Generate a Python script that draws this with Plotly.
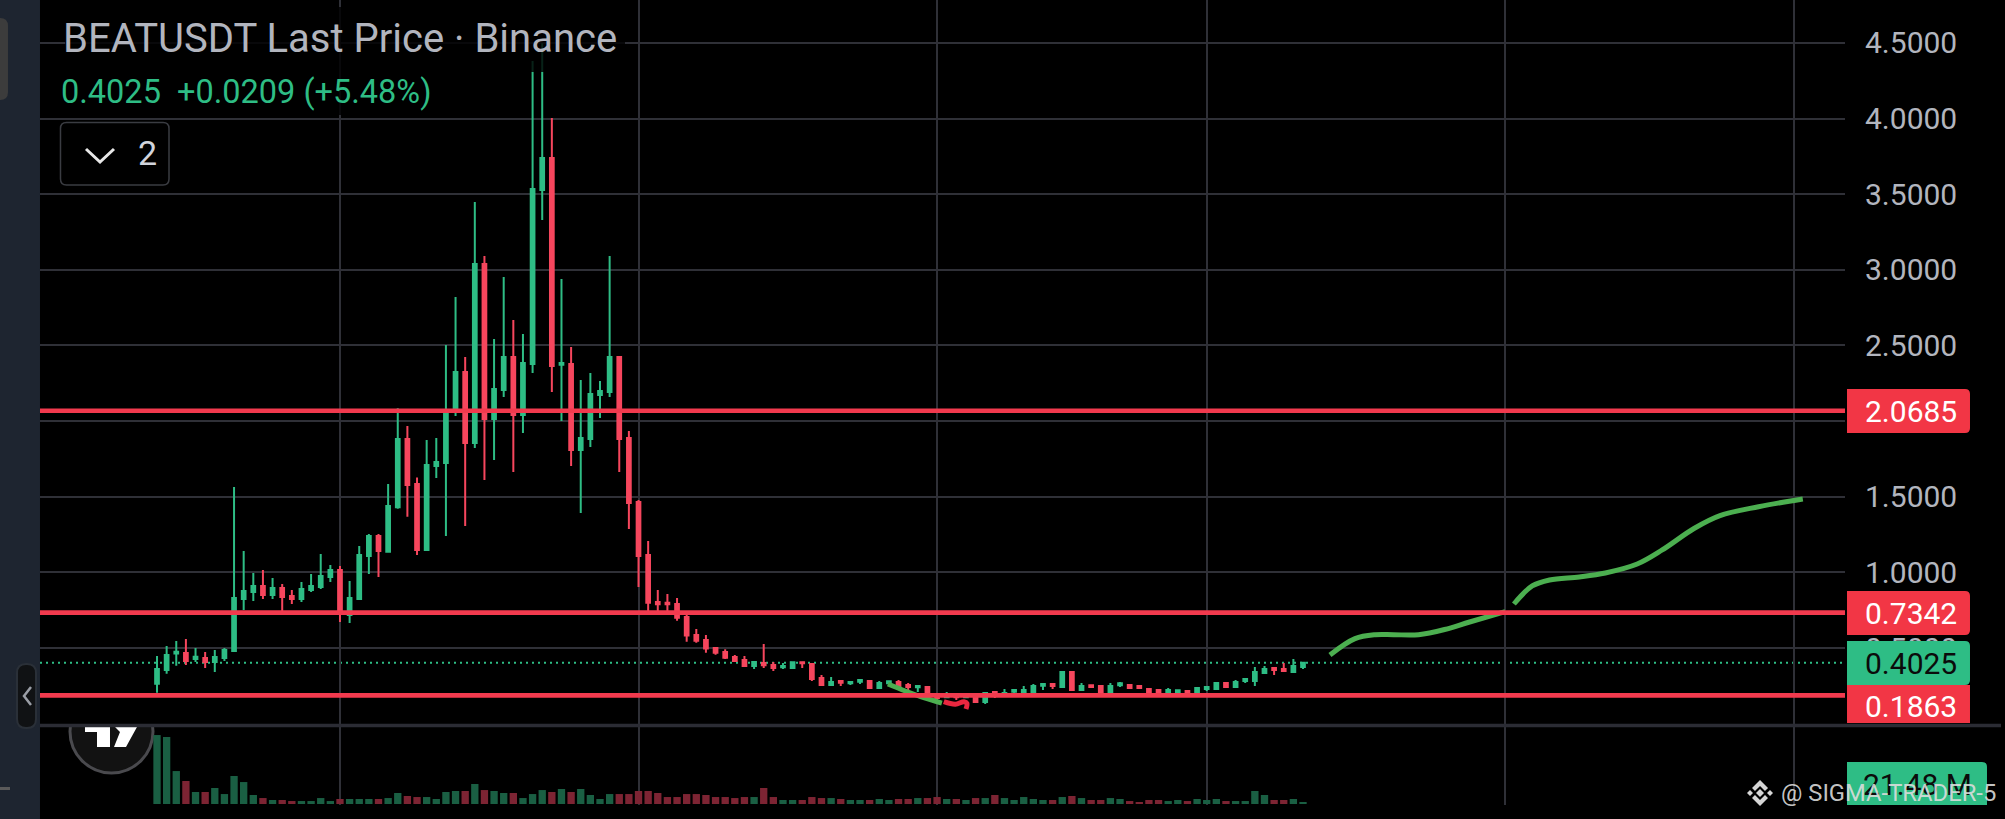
# -*- coding: utf-8 -*-
import plotly.graph_objs as go

WIDTH = 2005
HEIGHT = 819

GREEN = "#2ebd85"
RED = "#f6465d"
LEVEL_RED = "#f23a4e"
GRID = "#2f3037"
AXIS_TEXT = "#b2b5be"
SIDEBAR = "#1e2530"

open_ = [
    0.264, 0.355, 0.463, 0.467, 0.427, 0.434, 0.407, 0.434, 0.480, 0.824,
    0.870, 0.910, 0.850, 0.897, 0.844, 0.824, 0.883, 0.903, 0.969, 1.016,
    0.718, 0.824, 1.108, 1.240, 1.137, 1.430, 1.882, 1.584, 1.148, 1.703,
    1.723, 2.060, 2.325, 1.855, 3.039, 2.014, 2.206, 2.424, 2.040, 2.378,
    3.528, 3.740, 2.373, 2.378, 1.809, 1.882, 2.173, 2.193, 2.424, 1.888,
    1.465, 1.115, 0.804, 0.800, 0.791, 0.705, 0.586, 0.553, 0.500, 0.474,
    0.4405, 0.4207, 0.3810, 0.4008, 0.3876, 0.3722, 0.3678, 0.4052, 0.3942, 0.3016,
    0.2554, 0.2818, 0.2664, 0.2774, 0.2818, 0.2355, 0.2664, 0.2752, 0.2554, 0.2399,
    0.2421, 0.1958, 0.1738, 0.1892, 0.1738, 0.1826, 0.1430, 0.2091, 0.1870, 0.2113,
    0.2091, 0.2091, 0.2509, 0.2620, 0.2421, 0.3413, 0.2223, 0.2532, 0.2487, 0.1958,
    0.2532, 0.2554, 0.2487, 0.2289, 0.2223, 0.2091, 0.2091, 0.2157, 0.1892, 0.2289,
    0.2289, 0.2686, 0.2421, 0.2818, 0.2818, 0.3347, 0.3678, 0.3612, 0.3413, 0.3744,
]
high = [
    0.447, 0.513, 0.546, 0.560, 0.500, 0.474, 0.487, 0.500, 1.564, 1.141,
    0.996, 1.016, 0.963, 0.923, 0.883, 0.936, 0.989, 1.121, 1.049, 1.042,
    0.943, 1.174, 1.254, 1.254, 1.584, 2.085, 1.968, 1.628, 1.875, 1.888,
    2.503, 2.821, 2.424, 3.449, 3.092, 2.543, 2.953, 2.669, 2.576, 4.381,
    4.498, 4.004, 2.940, 2.490, 2.272, 2.318, 2.265, 3.092, 2.431, 1.935,
    1.479, 1.207, 0.883, 0.857, 0.831, 0.734, 0.626, 0.586, 0.507, 0.491,
    0.4537, 0.4471, 0.4074, 0.5264, 0.4074, 0.4008, 0.4118, 0.4074, 0.3942, 0.3215,
    0.3083, 0.2818, 0.2752, 0.2950, 0.2818, 0.2818, 0.2796, 0.2884, 0.2686, 0.2487,
    0.2421, 0.2025, 0.2091, 0.1892, 0.1936, 0.1826, 0.2025, 0.2091, 0.2289, 0.2223,
    0.2487, 0.2620, 0.2620, 0.2620, 0.3479, 0.3413, 0.2686, 0.2532, 0.2487, 0.2686,
    0.2752, 0.2620, 0.2487, 0.2355, 0.2223, 0.2355, 0.2201, 0.2223, 0.2421, 0.2421,
    0.2752, 0.2752, 0.2884, 0.3016, 0.3744, 0.3810, 0.3678, 0.4008, 0.4273, 0.4025,
]
low = [
    0.205, 0.330, 0.383, 0.388, 0.407, 0.368, 0.341, 0.414, 0.480, 0.751,
    0.811, 0.824, 0.824, 0.734, 0.791, 0.804, 0.870, 0.890, 0.936, 0.672,
    0.665, 0.817, 0.989, 0.969, 1.137, 1.421, 1.368, 1.115, 1.143, 1.624,
    1.240, 2.034, 1.307, 1.822, 1.611, 1.743, 2.160, 1.664, 1.922, 2.318,
    3.330, 2.193, 2.000, 1.703, 1.393, 1.829, 2.021, 2.160, 1.664, 1.287,
    0.903, 0.729, 0.718, 0.729, 0.681, 0.542, 0.535, 0.469, 0.456, 0.427,
    0.4074, 0.3810, 0.3612, 0.3678, 0.3479, 0.3612, 0.3678, 0.3678, 0.2818, 0.2487,
    0.2554, 0.2487, 0.2554, 0.2620, 0.2355, 0.2289, 0.2487, 0.2421, 0.2223, 0.2091,
    0.1738, 0.1562, 0.1738, 0.1562, 0.1738, 0.1430, 0.1298, 0.1694, 0.1826, 0.1892,
    0.2091, 0.2091, 0.2223, 0.2289, 0.2421, 0.2223, 0.2223, 0.2355, 0.1958, 0.1958,
    0.2421, 0.2355, 0.2355, 0.1958, 0.1958, 0.2091, 0.1892, 0.1958, 0.1892, 0.2157,
    0.2289, 0.2421, 0.2421, 0.2686, 0.2487, 0.3281, 0.3215, 0.3479, 0.3413, 0.3612,
]
close = [
    0.361, 0.454, 0.476, 0.414, 0.443, 0.407, 0.440, 0.487, 0.831, 0.877,
    0.910, 0.850, 0.897, 0.837, 0.824, 0.890, 0.910, 0.976, 1.016, 0.740,
    0.831, 1.115, 1.240, 1.141, 1.439, 1.882, 1.578, 1.148, 1.710, 1.730,
    2.067, 2.325, 1.855, 3.039, 2.014, 2.212, 2.424, 2.040, 2.384, 3.535,
    3.740, 2.364, 2.384, 1.809, 1.888, 2.179, 2.199, 2.424, 1.882, 1.459,
    1.108, 0.800, 0.789, 0.789, 0.700, 0.582, 0.548, 0.496, 0.469, 0.436,
    0.4140, 0.3810, 0.4074, 0.3854, 0.3678, 0.3810, 0.4052, 0.3986, 0.2950, 0.2554,
    0.2752, 0.2708, 0.2752, 0.2884, 0.2355, 0.2686, 0.2796, 0.2421, 0.2421, 0.2487,
    0.1826, 0.1694, 0.1870, 0.1738, 0.1870, 0.1430, 0.2025, 0.1958, 0.2025, 0.2223,
    0.2223, 0.2487, 0.2620, 0.2487, 0.3413, 0.2223, 0.2487, 0.2421, 0.1958, 0.2487,
    0.2664, 0.2355, 0.2355, 0.2091, 0.2091, 0.2223, 0.2201, 0.1958, 0.2355, 0.2421,
    0.2686, 0.2421, 0.2752, 0.2950, 0.3413, 0.3612, 0.3545, 0.3479, 0.3810, 0.4025,
]
volume_m = [
    74.1, 72.0, 35.4, 24.7, 12.9, 12.9, 17.2, 10.7, 30.1, 23.6,
    9.7, 6.4, 4.3, 4.3, 3.2, 3.2, 3.2, 6.4, 3.2, 5.4,
    5.4, 5.4, 5.4, 5.4, 6.4, 11.8, 8.6, 7.5, 7.5, 5.4,
    12.9, 14.0, 14.0, 21.5, 15.0, 14.0, 11.8, 11.8, 6.4, 10.7,
    15.0, 12.9, 16.1, 12.9, 16.1, 9.7, 5.4, 10.7, 10.7, 10.7,
    14.0, 14.0, 11.8, 7.5, 7.5, 10.7, 10.7, 9.7, 7.5, 7.5,
    6.4, 7.5, 7.5, 17.2, 7.5, 4.3, 4.3, 4.3, 7.5, 6.4,
    6.4, 5.4, 4.3, 4.3, 4.3, 5.4, 4.3, 5.4, 5.4, 6.4,
    6.4, 7.5, 5.4, 5.4, 4.3, 6.4, 6.4, 9.7, 6.4, 4.3,
    7.5, 5.4, 4.3, 4.3, 7.5, 8.6, 6.4, 4.3, 4.3, 6.4,
    5.4, 3.2, 2.1, 4.3, 4.3, 3.2, 4.3, 3.2, 5.4, 4.3,
    5.4, 3.2, 3.2, 3.2, 14.0, 9.7, 4.3, 4.3, 5.4, 2.1,
]
candle_x = list(range(len(close)))

# month gridlines, as candle numbers
month_ticks = [19, 50, 81, 109, 140, 170]
price_ticks = [0.5, 1.0, 1.5, 2.0, 2.5, 3.0, 3.5, 4.0, 4.5]
# 2.0000 sits fully behind the 2.0685 tag
price_tick_text = ["0.5000", "1.0000", "1.5000", "", "2.5000", "3.0000", "3.5000", "4.0000", "4.5000"]
level_prices = [2.0685, 0.7342, 0.1863]
last_price = 0.4025

# hand drawn strokes on top of the chart
forecast_a_x = [121.8, 124.4, 126.5, 128.4, 131.0, 133.7, 136.3, 140.0]
forecast_a_y = [0.454, 0.562, 0.588, 0.588, 0.588, 0.622, 0.672, 0.740]
forecast_b_x = [140.9, 142.8, 144.6, 147.7, 150.4, 153.7, 156.3, 159.6, 162.3, 166.3, 170.9]
forecast_b_y = [0.791, 0.910, 0.950, 0.970, 0.996, 1.055, 1.148, 1.290, 1.375, 1.434, 1.485]
swoosh_x = [75.9, 77.7, 79.7, 81.5]
swoosh_y = [0.262, 0.216, 0.170, 0.136]
squiggle_x = [81.7, 82.9, 83.8, 84.1, 84.0]
squiggle_y = [0.145, 0.128, 0.145, 0.134, 0.097]


def px_x(x):
    return x / WIDTH


def px_y(y):
    return 1 - y / HEIGHT


def rounded_path(x0, y0, x1, y1, tl=0, tr=0, br=0, bl=0):
    def pt(x, y):
        return f"{px_x(x):.5f},{px_y(y):.5f}"

    return (
        f"M{pt(x0 + tl, y0)} L{pt(x1 - tr, y0)} Q{pt(x1, y0)} {pt(x1, y0 + tr)} "
        f"L{pt(x1, y1 - br)} Q{pt(x1, y1)} {pt(x1 - br, y1)} "
        f"L{pt(x0 + bl, y1)} Q{pt(x0, y1)} {pt(x0, y1 - bl)} "
        f"L{pt(x0, y0 + tl)} Q{pt(x0, y0)} {pt(x0 + tl, y0)} Z"
    )


def poly_path(points, closed=True):
    body = " L".join(f"{px_x(x):.5f},{px_y(y):.5f}" for x, y in points)
    return "M" + body + (" Z" if closed else "")


def fill_shape(path, color, line_color=None, line_width=0, opacity=1, layer="above"):
    return dict(
        type="path", xref="paper", yref="paper", path=path, fillcolor=color,
        line=dict(color=line_color or "rgba(0,0,0,0)", width=line_width),
        opacity=opacity, layer=layer,
    )


def stroke_shape(points, color, width):
    return dict(
        type="path", xref="paper", yref="paper", path=poly_path(points, closed=False),
        line=dict(color=color, width=width), layer="above",
    )


def text_note(text, x, y, size, color, anchor="left", font="Roboto"):
    return dict(
        text=text, xref="paper", yref="paper", x=px_x(x), y=px_y(y),
        xanchor=anchor, yanchor="middle", showarrow=False,
        font=dict(family=font, size=size, color=color), borderpad=0,
    )


x_range = [-12.15, 175.28]

fig = go.Figure()

fig.add_trace(go.Candlestick(
    x=candle_x, open=open_, high=high, low=low, close=close,
    increasing=dict(line=dict(color=GREEN, width=2), fillcolor=GREEN),
    decreasing=dict(line=dict(color=RED, width=2), fillcolor=RED),
    whiskerwidth=0, showlegend=False, xaxis="x", yaxis="y",
))
for fx, fy in [(forecast_a_x, forecast_a_y), (forecast_b_x, forecast_b_y), (swoosh_x, swoosh_y)]:
    fig.add_trace(go.Scatter(
        x=fx, y=fy, mode="lines", line=dict(color="#4caf50", width=5, shape="spline"),
        showlegend=False, xaxis="x", yaxis="y",
    ))
for level in level_prices:
    fig.add_trace(go.Scatter(
        x=x_range, y=[level, level], mode="lines", line=dict(color=LEVEL_RED, width=4.7),
        showlegend=False, xaxis="x", yaxis="y",
    ))
fig.add_trace(go.Scatter(
    x=squiggle_x, y=squiggle_y, mode="lines", line=dict(color="#e8273f", width=5, shape="spline"),
    showlegend=False, xaxis="x", yaxis="y",
))

volume_colors = ["#1a5f43" if c >= o else "#7d2433" for o, c in zip(open_, close)]
fig.add_trace(go.Bar(
    x=candle_x, y=volume_m, marker=dict(color=volume_colors, line=dict(width=0)),
    showlegend=False, xaxis="x2", yaxis="y2",
))

shapes = [
    # TradingView badge, cut off by the price pane
    dict(type="circle", xref="paper", yref="paper", x0=px_x(70), x1=px_x(153), y0=px_y(773), y1=px_y(690),
         fillcolor="#121212", line=dict(color="#4a4a4e", width=3), layer="below"),
    fill_shape(rounded_path(40, 0, 1845, 725), "#000000", layer="below"),
    dict(type="line", xref="paper", yref="y", x0=px_x(40), x1=px_x(1843), y0=last_price, y1=last_price,
         line=dict(color=GREEN, width=2, dash="2px,4px"), layer="below"),
    fill_shape(poly_path([(85, 727), (110, 727), (110, 747), (97, 747), (97, 732), (85, 732)]), "#ffffff"),
    fill_shape(poly_path([(115, 727), (137, 727), (126, 747), (114, 747), (120, 732)]), "#ffffff"),
    # pane separator
    dict(type="line", xref="paper", yref="paper", x0=px_x(40), x1=px_x(2001), y0=px_y(725.5), y1=px_y(725.5),
         line=dict(color="#2b2c34", width=3.5), layer="above"),
    # legend backdrop
    fill_shape(rounded_path(65, 7, 625, 72), "#000000", opacity=0.82),
    fill_shape(rounded_path(60, 72, 435, 115), "#000000", opacity=0.82),
    fill_shape(rounded_path(60.5, 122.5, 169, 185, 6, 6, 6, 6), "#000000", "#3a3c42", 1.5),
    stroke_shape([(86, 149), (100, 162), (114, 149)], "#e8e8e8", 3),
    # left sidebar
    fill_shape(rounded_path(0, 0, 40, 819), SIDEBAR),
    fill_shape(rounded_path(-8, 18, 8, 100, 0, 8, 8, 0), "#3c3c3c"),
    fill_shape(rounded_path(17, 664, 36, 728, 9, 9, 9, 9), "#101214", "#2a3038", 2),
    stroke_shape([(31, 687), (24, 696), (31, 705)], "#9a9ea6", 2.5),
    fill_shape(rounded_path(0, 787, 10, 790), "#5a5a5a"),
    # price tags
    fill_shape(rounded_path(1847, 389, 1970, 433, 0, 5, 5, 0), "#f23645"),
    fill_shape(rounded_path(1847, 591, 1970, 635, 0, 5, 5, 0), "#f23645"),
    fill_shape(rounded_path(1847, 685, 1970, 723), "#f23645"),
    fill_shape(rounded_path(1847, 641, 1970, 685, 0, 5, 5, 0), GREEN),
    fill_shape(rounded_path(1847, 762, 1987, 805, 0, 5, 0, 0), GREEN),
    # watermark logo
    fill_shape(poly_path([(1760, 789), (1764, 793), (1760, 797), (1756, 793)]), "#d6d6d6"),
    fill_shape(poly_path([(1750, 790), (1753, 793), (1750, 796), (1747, 793)]), "#d6d6d6"),
    fill_shape(poly_path([(1770, 790), (1773, 793), (1770, 796), (1767, 793)]), "#d6d6d6"),
    fill_shape(poly_path([(1760, 780), (1768, 788), (1765, 791), (1760, 786), (1755, 791), (1752, 788)]), "#d6d6d6"),
    fill_shape(poly_path([(1760, 806), (1768, 798), (1765, 795), (1760, 800), (1755, 795), (1752, 798)]), "#d6d6d6"),
]

annotations = [
    text_note("BEATUSDT Last Price · Binance", 62, 38, 40, AXIS_TEXT),
    text_note("0.4025  +0.0209 (+5.48%)", 60, 92, 32.5, GREEN),
    text_note("2", 137, 153, 34, "#d1d4dc"),
    text_note("2.0685", 1911, 411, 30, "#ffffff", "center"),
    text_note("0.7342", 1911, 613, 30, "#ffffff", "center"),
    text_note("0.4025", 1911, 663, 30, "#0b0b0b", "center"),
    text_note("0.1863", 1911, 706, 30, "#ffffff", "center"),
    text_note("21.48 M", 1917, 784, 30, "#0b0b0b", "center"),
    text_note("@ SIGMA-TRADER-5", 1780, 793, 23.8, "rgba(222,222,222,0.9)"),
]

fig.update_layout(
    width=WIDTH,
    height=HEIGHT,
    autosize=False,
    margin=dict(l=0, r=0, t=0, b=0),
    paper_bgcolor="#000000",
    plot_bgcolor="rgba(0,0,0,0)",
    font=dict(family="Roboto"),
    showlegend=False,
    boxgap=0.45,
    bargap=0.24,
    shapes=shapes,
    annotations=annotations,
    xaxis=dict(
        domain=[px_x(40), px_x(1845)], range=x_range, anchor="y", tickvals=month_ticks,
        showticklabels=False, showgrid=True, gridcolor=GRID, gridwidth=2, zeroline=False,
        rangeslider=dict(visible=False), fixedrange=True,
    ),
    xaxis2=dict(
        domain=[px_x(40), px_x(1845)], range=x_range, anchor="y2", tickvals=month_ticks,
        showticklabels=False, showgrid=True, gridcolor=GRID, gridwidth=2, zeroline=False,
        fixedrange=True,
    ),
    yaxis=dict(
        domain=[px_y(725), 1], range=[-0.009, 4.784], side="right", anchor="x",
        tickvals=price_ticks, ticktext=price_tick_text, showgrid=True, gridcolor=GRID, gridwidth=1.5,
        zeroline=False, ticks="outside", ticklen=13, tickcolor="rgba(0,0,0,0)",
        tickfont=dict(family="Roboto", size=30, color=AXIS_TEXT), fixedrange=True,
    ),
    yaxis2=dict(
        domain=[px_y(805), px_y(725)], range=[-1.07, 84.9], side="right", anchor="x2",
        showticklabels=False, showgrid=False, zeroline=False, fixedrange=True,
    ),
)

fig.write_html("out.html", config={"displayModeBar": False}, post_script="document.body.style.margin='0';")
